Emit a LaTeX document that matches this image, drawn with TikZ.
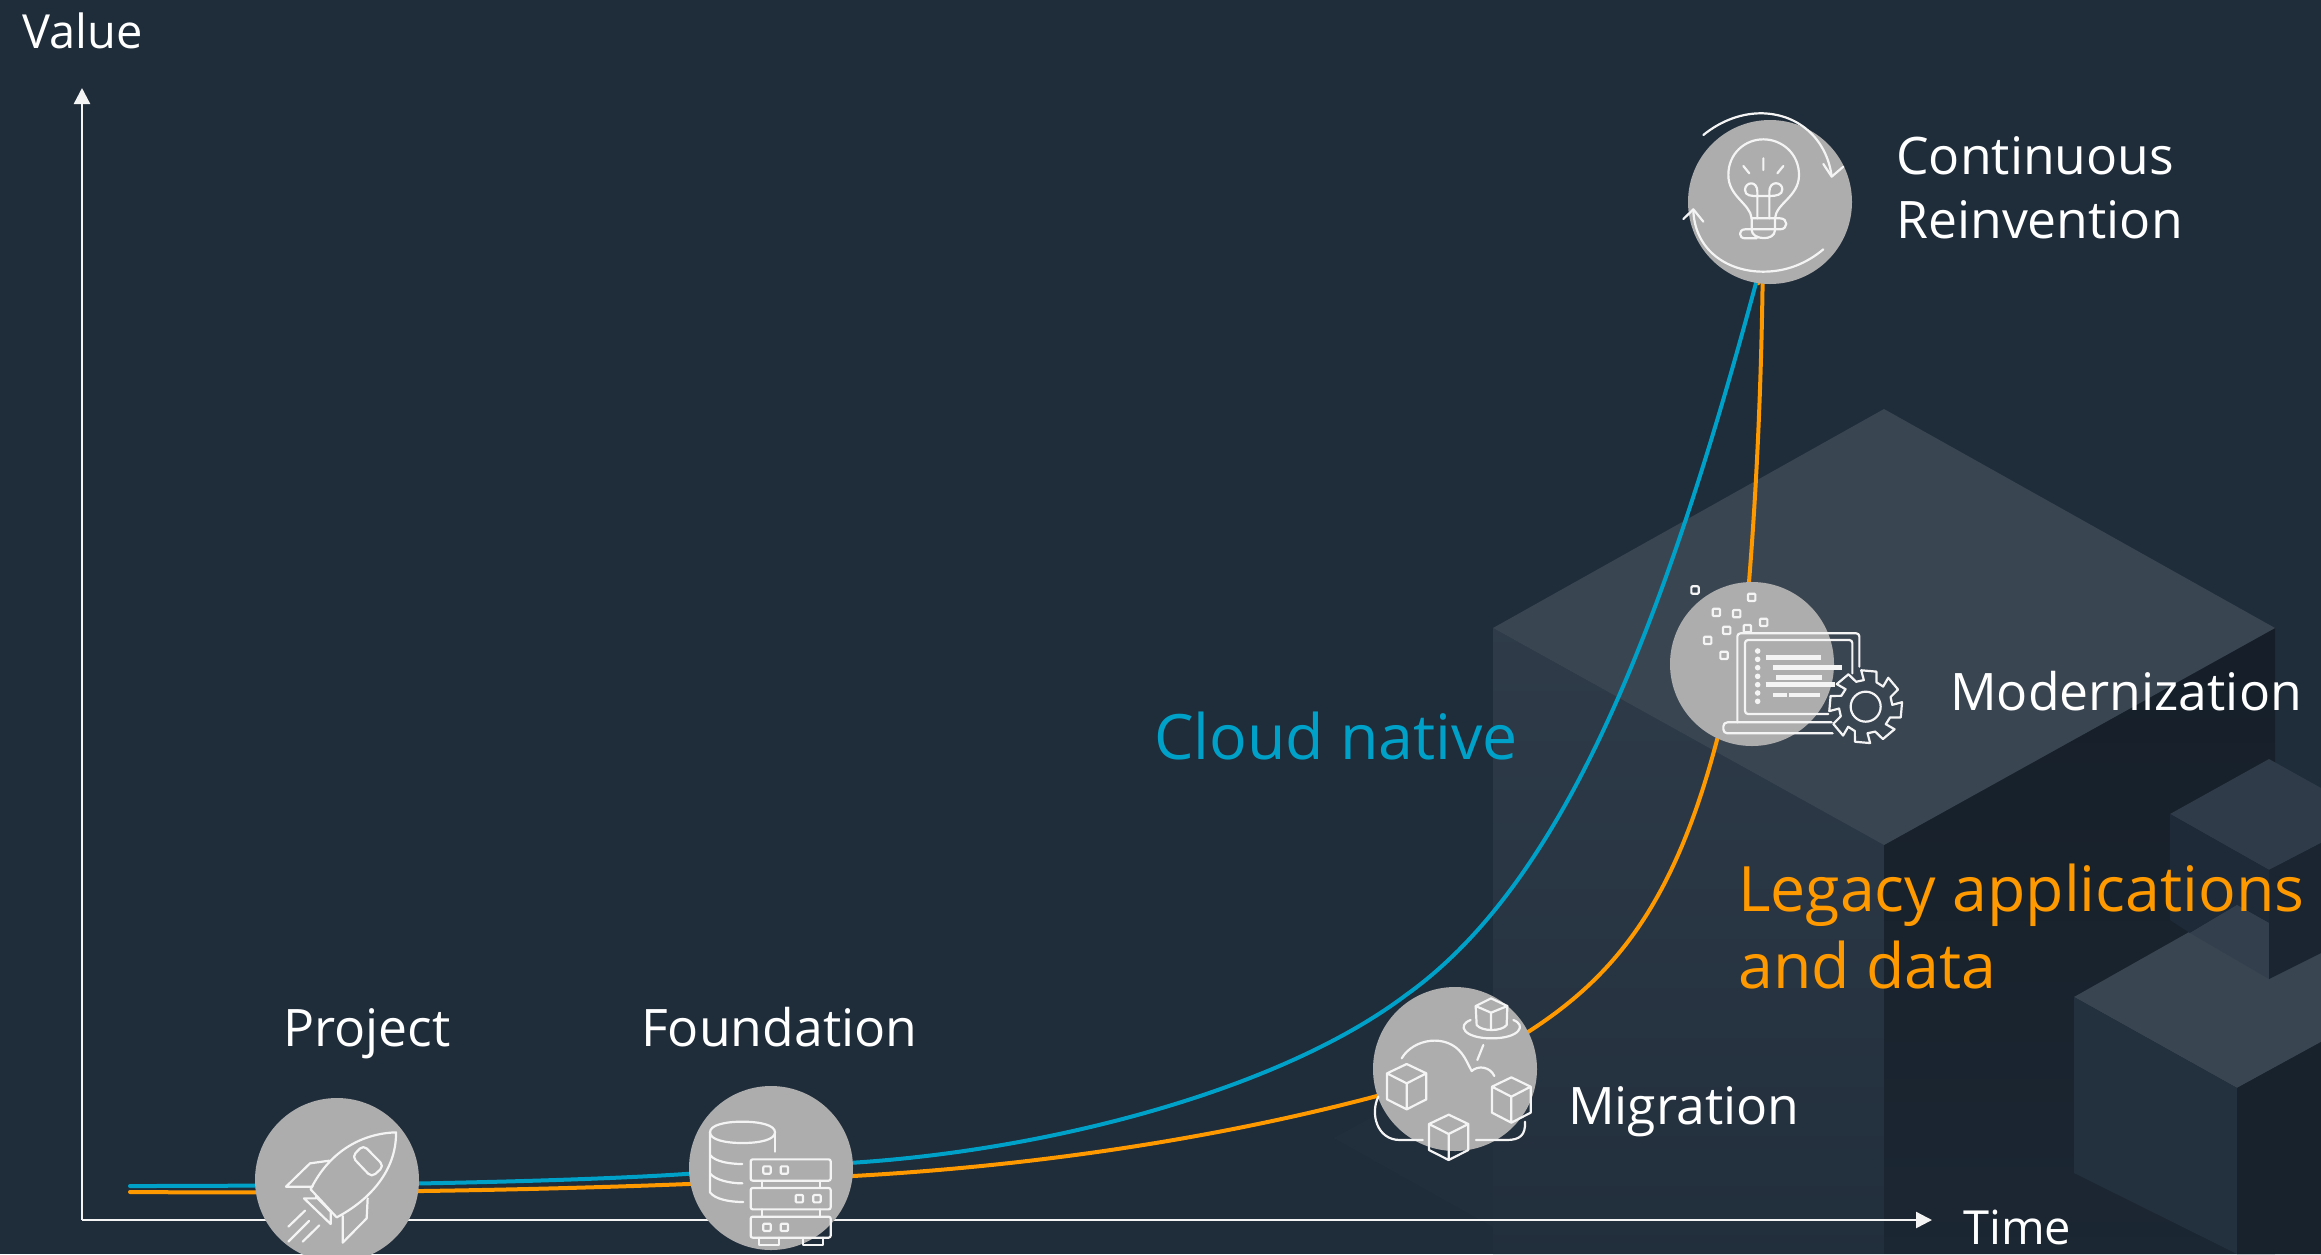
\documentclass[tikz,border=0pt]{standalone}
\usepackage{fontspec}
\setmainfont{Open Sans}
\usetikzlibrary{arrows.meta}
\definecolor{bgc}{HTML}{1F2C3A}
\definecolor{awsblue}{HTML}{00A1C9}
\definecolor{awsorange}{HTML}{FF9900}
\definecolor{disc}{HTML}{ADADAD}
\definecolor{ink}{HTML}{F4F4F4}
\pgfdeclarelayer{under}
\pgfsetlayers{under,main}
\tikzset{
  stage/.style={circle,fill=disc,minimum size=164pt,inner sep=0pt},
  lbl/.style={anchor=base west,inner sep=0pt,text=white,font=\fontsize{51.7}{64}\selectfont,align=left},
  axislbl/.style={anchor=base west,inner sep=0pt,text=white,font=\fontsize{47}{56}\selectfont},
  biglbl/.style={anchor=base west,inner sep=0pt,font=\fontsize{62.6}{77}\selectfont,align=left},
  axisline/.style={draw=ink,line width=2.4pt,-{Triangle[length=16pt,width=16pt]}},
  curve/.style={line width=4pt,line cap=round},
  icon/.style={draw=ink,line width=2.2pt,line join=round,line cap=round,fill=none},
  zoomed/.style={x=0.33333pt,y=-0.33333pt}
}
\newcommand{\isocube}[3]{% centre vertex x,y ; half width
  \draw[icon] (#1,#2-58) -- (#1+#3,#2-30) -- (#1+#3,#2+48) -- (#1,#2+78) -- (#1-#3,#2+48) -- (#1-#3,#2-30) -- cycle
    (#1-#3,#2-30) -- (#1,#2) -- (#1+#3,#2-30) (#1,#2) -- (#1,#2+78);}
\newcommand{\tinysq}[2]{\draw[icon,rounded corners=1pt] (#1-11,#2-11) rectangle (#1+11,#2+11);}
\begin{document}
\begin{tikzpicture}[x=1pt,y=-1pt]
\useasboundingbox (0,0) rectangle (2321,1254);
\coordinate (origin) at (82,1220);
\coordinate (yend) at (82,88);
\coordinate (xend) at (1932,1220);
\coordinate (blueStart) at (130,1186);
\coordinate (orangeStart) at (130,1192);
\coordinate (blueBend) at (1406,995);
\coordinate (blueTop) at (1756,283);
\coordinate (orangeLow) at (853,1176);
\coordinate (orangeIn) at (1377,1096);
\coordinate (orangeOut) at (1528,1032);
\coordinate (orangeMid) at (1749,582);

% stages
\node[stage] (project) at (337,1180) {};
\node[stage] (foundation) at (771,1168) {};
\node[stage] (migration) at (1455,1069) {};
\node[stage] (modernization) at (1752,664) {};
\node[stage] (reinvention) at (1770,202) {};

\begin{pgfonlayer}{under}
\fill[bgc] (0,0) rectangle (2321,1254);
% faint lower-left block
\fill[white,opacity=0.012] (1590,998) -- (1834,1138) -- (1584,1278) -- (1334,1138) -- cycle;
% big block
\shade[top color=black!30!bgc,bottom color=black!12!bgc] (1884,845) -- (2275,628) -- (2275,1254) -- (1884,1254) -- cycle;
\shade[top color=white!7!bgc,bottom color=white!1!bgc] (1493,628) -- (1884,845) -- (1884,1254) -- (1493,1254) -- cycle;
\fill[white!12!bgc] (1884,409) -- (2275,628) -- (1884,845) -- (1493,628) -- cycle;
% lower right block
\fill[white!12!bgc] (2237,905) -- (2321,952) -- (2321,1042) -- (2237,1088) -- (2074,997) -- cycle;
\fill[white!2!bgc] (2074,997) -- (2237,1088) -- (2237,1254) -- (2074,1173) -- cycle;
\fill[black!22!bgc] (2237,1088) -- (2321,1042) -- (2321,1254) -- (2237,1254) -- cycle;
% upper right block
\fill[white!7!bgc] (2269,759) -- (2321,788) -- (2321,843) -- (2269,870) -- (2170,814) -- cycle;
\fill[black!4!bgc] (2170,814) -- (2269,870) -- (2269,923) -- (2237,905) -- (2190,933) -- (2170,920) -- cycle;
\fill[white!9!bgc] (2190,933) -- (2237,905) -- (2269,923) -- (2269,979) -- cycle;
\fill[black!15!bgc] (2269,870) -- (2321,843) -- (2321,953) -- (2269,979) -- cycle;
% axes
\draw[axisline] (origin) -- (yend);
\draw[axisline] (origin) -- (xend);
% curves
\draw[curve,awsorange] (orangeStart) .. controls (400,1194) and (650,1188) .. (orangeLow)
  .. controls (1050,1165) and (1230,1135) .. (orangeIn) -- (orangeOut)
  .. controls (1640,960) and (1705,860) .. (orangeMid)
  .. controls (1758,470) and (1762,360) .. (1763,250) -- (reinvention);
\draw[curve,awsblue] (blueStart) .. controls (400,1186) and (600,1180) .. (foundation)
  .. controls (1050,1150) and (1280,1090) .. (blueBend)
  .. controls (1560,885) and (1660,640) .. (blueTop) -- (reinvention);
\end{pgfonlayer}

% labels
\node[axislbl] (valuelbl) at (22,48) {Value};
\node[axislbl] (timelbl) at (1963,1244) {Time};
\node[lbl] (projectlbl) at (283,1046) {Project};
\node[lbl] (foundationlbl) at (641,1046) {Foundation};
\node[lbl] (migrationlbl) at (1568,1124) {Migration};
\node[lbl] (modernlbl) at (1950,710) {Modernization};
\node[lbl] (reinventlbl) at (1896,238) {Continuous\\Reinvention};
\node[biglbl,text=awsblue] (nativelbl) at (1154,759) {Cloud native};
\node[biglbl,text=awsorange] (legacylbl) at (1738,988) {Legacy applications\\and data};

% rocket
\begin{scope}[shift={(230,1080)},zoomed]
\draw[icon] (498,157) .. controls (400,160) and (300,210) .. (242,328) -- (320,412) .. controls (420,360) and (500,270) .. (498,157) -- cycle;
\draw[icon,rounded corners=5pt] (400,195) -- (462,258) -- (425,292) -- (366,230) -- cycle;
\draw[icon] (298,242) -- (240,250) -- (168,320) -- (248,320);
\draw[icon] (413,355) -- (410,415) -- (338,488) -- (338,408);
\draw[icon] (258,355) -- (222,355) -- (302,432) -- (302,395) -- (258,350);
\draw[icon] (175,440) -- (225,392) (175,485) -- (237,423) (218,485) -- (268,436);
\end{scope}

% database and servers
\begin{scope}[shift={(660,1070)},zoomed]
\draw[icon] (150,187) .. controls (150,165) and (195,155) .. (247,155) .. controls (300,155) and (345,165) .. (345,187) .. controls (345,209) and (300,219) .. (247,219) .. controls (195,219) and (150,209) .. (150,187) -- cycle;
\draw[icon] (150,187) -- (150,367) .. controls (165,388) and (210,396) .. (250,396);
\draw[icon] (150,255) .. controls (165,275) and (210,282) .. (247,282);
\draw[icon] (150,310) .. controls (165,330) and (210,340) .. (247,340);
\draw[icon] (345,187) -- (345,245);
\draw[icon,rounded corners=2pt] (272,268) rectangle (512,332);
\draw[icon,rounded corners=2pt] (272,354) rectangle (512,418);
\draw[icon,rounded corners=2pt] (272,440) rectangle (512,503);
\draw[icon] (307,332) -- (307,354) (480,332) -- (480,354) (307,418) -- (307,440) (480,418) -- (480,440);
\draw[icon] (297,503) -- (297,525) -- (357,525) -- (357,503) (430,503) -- (430,525) -- (490,525) -- (490,503);
\tinysq{321}{300}\tinysq{373}{300}\tinysq{418}{386}\tinysq{471}{386}\tinysq{321}{472}\tinysq{373}{472}
\end{scope}

% migration
\begin{scope}[shift={(1350,970)},zoomed]
\isocube{170}{340}{59}
\isocube{484}{380}{58}
\isocube{296}{492}{59}
\draw[icon] (423,85) -- (472,108) -- (423,128) -- (377,108) -- cycle (423,128) -- (423,178);
\draw[icon] (377,108) -- (380,165) .. controls (395,185) and (455,185) .. (470,165) -- (472,108);
\draw[icon] (362,150) .. controls (320,165) and (340,205) .. (425,205) .. controls (510,205) and (530,165) .. (490,150);
\draw[icon] (400,225) -- (382,270);
\draw[icon] (155,265) .. controls (190,205) and (290,190) .. (335,250) .. controls (350,270) and (355,285) .. (365,303) .. controls (385,285) and (420,290) .. (433,318);
\draw[icon] (85,380) .. controls (60,430) and (80,510) .. (150,510) -- (218,510);
\draw[icon] (378,510) -- (470,510) .. controls (510,510) and (527,495) .. (525,455);
\end{scope}

% modernization
\begin{scope}[shift={(1660,560)},zoomed]
\foreach \p/\q in {105/90,275/112,169/157,230/161,311/187,200/211,262/206,143/241,192/286} {\tinysq{\p}{\q}}
\draw[icon,rounded corners=3pt] (232,487) -- (232,220) -- (598,220) -- (598,320);
\draw[icon,rounded corners=3pt] (505,462) -- (255,462) -- (255,240) -- (577,240) -- (577,340);
\draw[icon,rounded corners=4pt] (515,487) -- (190,487) -- (190,520) -- (518,520);
\foreach \q in {273,298,323,349,374,399,424} {\fill[ink] (293,\q) circle (2.8pt);}
\draw[icon,line width=4.5pt,line cap=butt] (317,292) -- (483,292) (339,322) -- (547,322) (349,352) -- (487,352) (317,374) -- (524,374) (339,405) -- (382,405) (387,405) -- (479,405);
\begin{scope}[shift={(617,440)}]
\draw[icon] (0,0) circle (15pt);
\draw[icon] (-97:110) \foreach \a in {0,45,...,315} { -- (\a-97:110) -- (\a-73:110) -- (\a-66:80) -- (\a-49:80)} -- cycle;
\end{scope}
\end{scope}

% bulb
\begin{scope}[shift={(1650,90)},zoomed]
\draw[icon] (160,135) .. controls (215,90) and (280,68) .. (340,70) .. controls (450,74) and (530,150) .. (545,258);
\draw[icon] (520,222) -- (545,260) -- (580,230);
\draw[icon] (130,362) .. controls (135,480) and (230,545) .. (340,545) .. controls (410,545) and (470,520) .. (520,478);
\draw[icon] (100,387) -- (130,358) -- (160,395);
\draw[icon] (305,385) .. controls (300,340) and (235,320) .. (235,255) .. controls (235,190) and (285,148) .. (340,148) .. controls (395,148) and (447,190) .. (447,255) .. controls (447,320) and (378,340) .. (375,385);
\draw[icon] (322,385) -- (322,305) .. controls (322,270) and (285,275) .. (285,300) .. controls (285,318) and (305,318) .. (322,318) -- (358,318) .. controls (378,318) and (397,315) .. (397,298) .. controls (397,275) and (358,270) .. (358,305) -- (358,385);
\draw[icon] (305,385) -- (390,385) .. controls (415,385) and (415,418) .. (390,418) -- (285,418) .. controls (265,418) and (265,445) .. (285,445) -- (320,445);
\draw[icon] (305,385) -- (305,420) .. controls (305,450) and (375,455) .. (375,420) -- (375,385);
\draw[icon] (340,205) -- (340,240) (280,228) -- (298,250) (400,228) -- (382,250);
\end{scope}
\end{tikzpicture}
\end{document}
